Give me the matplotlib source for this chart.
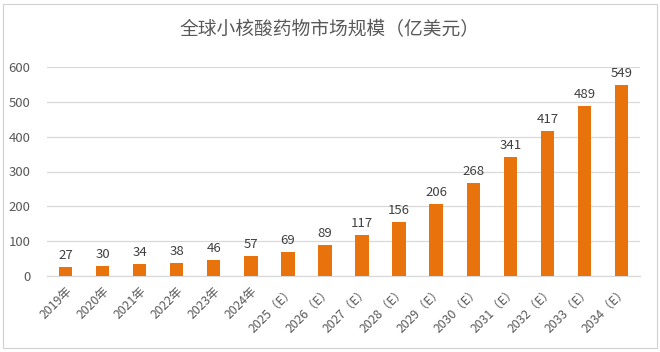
import matplotlib
matplotlib.use("Agg")
import matplotlib.pyplot as plt
from matplotlib.patches import Rectangle

plt.rcParams['font.family'] = ['Noto Sans CJK SC', 'DejaVu Sans']

categories = ["2019年", "2020年", "2021年", "2022年", "2023年", "2024年",
              "2025（E）", "2026（E）", "2027（E）", "2028（E）", "2029（E）",
              "2030（E）", "2031（E）", "2032（E）", "2033（E）", "2034（E）"]
values = [27, 30, 34, 38, 46, 57, 69, 89, 117, 156, 206, 268, 341, 417, 489, 549]
yticks = [0, 100, 200, 300, 400, 500, 600]
title = "全球小核酸药物市场规模（亿美元）"

txt = "#595959"
fig = plt.figure(figsize=(6.6, 3.52), dpi=100)
ax = fig.add_axes([47/660, 1-276/352, (640-47)/660, (276-67)/352])

x = range(len(categories))
ax.bar(x, values, width=0.36, color="#E8720C", zorder=3)
for i, v in zip(x, values):
    ax.text(i, v + 14, str(v), ha="center", va="bottom", fontsize=9.5, color="#404040")

ax.set_xlim(-0.5, len(categories) - 0.5)
ax.set_ylim(0, 600)
ax.set_yticks(yticks)
ax.set_yticklabels([str(t) for t in yticks], fontsize=9.5, color=txt)
ax.set_xticks(list(x))
ax.set_xticklabels(categories, rotation=45, ha="right", rotation_mode="anchor",
                   fontsize=8.8, color=txt)
ax.tick_params(axis="both", length=0)
ax.tick_params(axis="y", pad=12)
ax.tick_params(axis="x", pad=6)
ax.grid(axis="y", color="#d9d9d9", linewidth=0.9, zorder=0)
for s in ["top", "right", "left"]:
    ax.spines[s].set_visible(False)
ax.spines["bottom"].set_color("#d9d9d9")
ax.spines["bottom"].set_linewidth(0.9)

fig.text(0.5, 1 - 30/352, title, ha="center", va="center", fontsize=13.5, color=txt)
fig.add_artist(Rectangle((3/660, 4/352), 654/660, 344/352, transform=fig.transFigure,
                         fill=False, edgecolor="#d0d0d0", linewidth=0.8))

fig.savefig("out.png", dpi=100)
